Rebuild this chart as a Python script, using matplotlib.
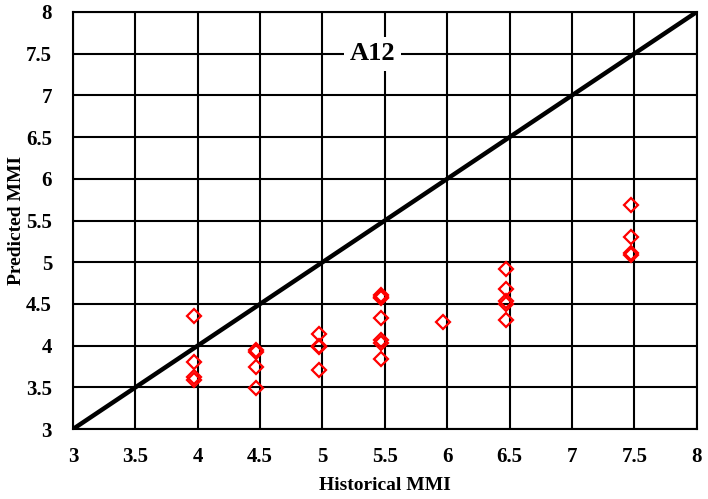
import matplotlib.pyplot as plt
import numpy as np

plt.rcParams['font.family'] = ['Liberation Serif', 'DejaVu Serif']
plt.rcParams['font.weight'] = 'bold'

historical = [3.97, 3.97, 3.97, 3.97,
              4.47, 4.47, 4.47, 4.47,
              4.97, 4.97, 4.97, 4.97,
              5.47, 5.47, 5.47, 5.47, 5.47, 5.47, 5.47,
              5.97,
              6.47, 6.47, 6.47, 6.47, 6.47,
              7.47, 7.47, 7.47, 7.47]
predicted = [4.36, 3.81, 3.62, 3.59,
             3.95, 3.92, 3.75, 3.49,
             4.14, 4.00, 3.98, 3.71,
             4.61, 4.58, 4.57, 4.33, 4.07, 4.03, 3.84,
             4.29,
             4.92, 4.68, 4.53, 4.50, 4.31,
             5.69, 5.30, 5.11, 5.09]
ticks = np.arange(3, 8.01, 0.5)
tick_labels = ['3', '3.5', '4', '4.5', '5', '5.5', '6', '6.5', '7', '7.5', '8']

fig = plt.figure(figsize=(7.08, 4.99), dpi=100)
ax = fig.add_axes([0.103, 0.140, 0.881, 0.836])

ax.set_xlim(3, 8)
ax.set_ylim(3, 8)
ax.set_xticks(ticks)
ax.set_yticks(ticks)
ax.set_xticklabels(tick_labels)
ax.set_yticklabels(tick_labels)
ax.tick_params(length=0, labelsize=15)
ax.tick_params(axis='x', pad=13)
ax.tick_params(axis='y', pad=15)
ax.grid(True, color='black', linewidth=1.5)
ax.set_axisbelow(True)
for s in ax.spines.values():
    s.set_linewidth(1.5)

ax.plot([3, 8], [3, 8], color='black', linewidth=3.2, zorder=3)
ax.plot(historical, predicted, linestyle='none', marker='D', markersize=7,
        markerfacecolor='none', markeredgecolor='red', markeredgewidth=1.6, zorder=4)

ax.text(5.40, 7.5, 'A12', fontsize=19, fontweight='bold', ha='center', va='center',
        bbox=dict(facecolor='white', edgecolor='none', pad=4), zorder=5)

ax.set_xlabel('Historical MMI', fontsize=14, fontweight='bold')
ax.xaxis.set_label_coords(0.5, -0.115)
ax.set_ylabel('Predicted MMI', fontsize=14, fontweight='bold')
ax.yaxis.set_label_coords(-0.077, 0.5)

fig.savefig('out.png', dpi=100)
